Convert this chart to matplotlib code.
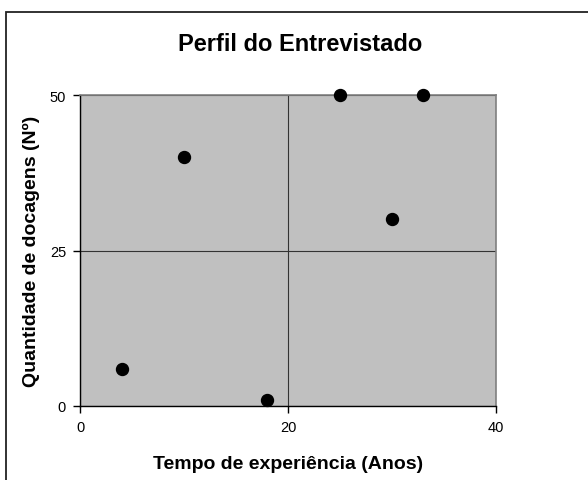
#!/usr/bin/env python3

import matplotlib
matplotlib.use("Agg")
from matplotlib import pyplot as plt
from matplotlib.patches import Rectangle

plt.rcParams["font.family"] = ["Liberation Sans", "DejaVu Sans"]

# years of experience vs. number of dockings, one point per interviewee
anos = [4, 10, 18, 25, 30, 33]
docagens = [6, 40, 1, 50, 30, 50]

x_ticks = [0, 20, 40]
y_ticks = [0, 25, 50]

W, H = 588, 481
fig = plt.figure(figsize=(W / 100, H / 100), dpi=100)

# chart frame, runs off the right and bottom edge
fig.patches.append(Rectangle((6 / W, -0.2), 2.0, 1 - 13 / H + 0.2,
                             transform=fig.transFigure, fill=False,
                             edgecolor="#222222", lw=1.3))

ax = fig.add_axes([80 / W, 1 - 407 / H, 416 / W, 311 / H])
ax.set_facecolor("#c0c0c0")

ax.plot(anos, docagens, "o", color="black", ms=8.6, clip_on=False, zorder=3)

ax.set_xlim(0, 40)
ax.set_ylim(0, 50)
ax.set_xticks(x_ticks)
ax.set_yticks(y_ticks)
ax.grid(True, color="#333333", lw=0.8)
ax.set_axisbelow(True)

for side in ["top", "right"]:
    ax.spines[side].set_color("#808080")
    ax.spines[side].set_linewidth(1.2)
for side in ["left", "bottom"]:
    ax.spines[side].set_color("black")
    ax.spines[side].set_linewidth(1.0)

ax.tick_params(direction="out", length=5, width=1, labelsize=10.5, pad=5)

# title sits centred on the whole chart, not on the plot area
fig.text(300 / W, 1 - 51 / H, "Perfil do Entrevistado", fontsize=17,
         fontweight="bold", ha="center", va="baseline")
ax.set_xlabel("Tempo de experiência (Anos)", fontsize=14, fontweight="bold",
              labelpad=15)
ax.set_ylabel("Quantidade de docagens (Nº)", fontsize=14, fontweight="bold",
              labelpad=7)

fig.savefig("out.png", dpi=100)
